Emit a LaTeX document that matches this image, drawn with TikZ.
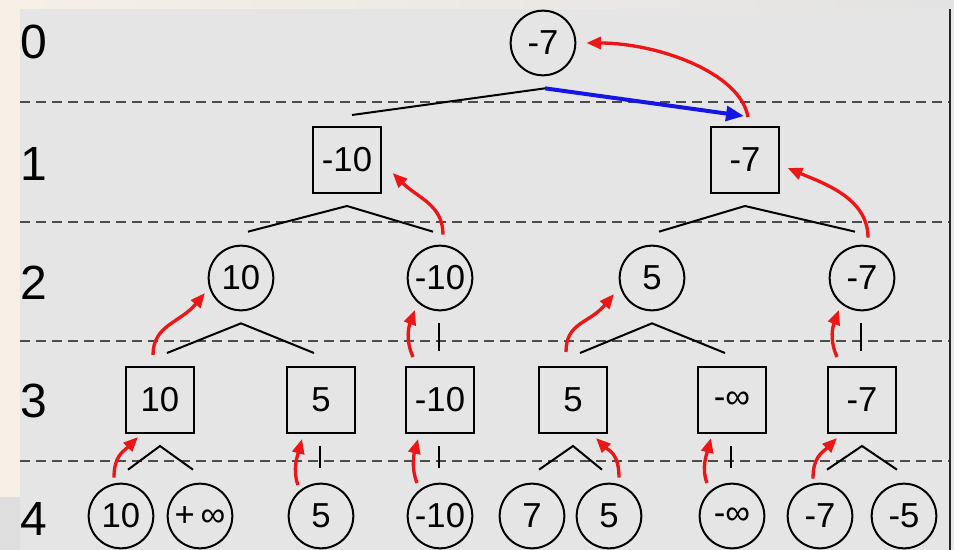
\documentclass[tikz,border=0pt]{standalone}
\usepackage{fontspec}
\setmainfont{Liberation Sans}
\usepackage{tikz}
\usetikzlibrary{arrows.meta,calc}
\definecolor{panel}{RGB}{229,229,229}
\definecolor{cream}{RGB}{245,239,230}
\definecolor{upred}{RGB}{236,22,22}
\definecolor{pickblue}{RGB}{22,22,228}

\begin{document}
\begin{tikzpicture}[x=.75pt,y=-.75pt]
\tikzset{maxn/.style={circle,draw,line width=1.5pt,minimum size=48.5pt,inner sep=0pt,font=\fontsize{26}{30}\selectfont},
minn/.style={rectangle,draw,line width=1.5pt,minimum width=50.5pt,minimum height=49.5pt,inner sep=0pt,font=\fontsize{26}{30}\selectfont},
lvl/.style={font=\fontsize{36}{40}\selectfont,inner sep=0pt},
sep/.style={dash pattern=on 7.5pt off 4.5pt,line width=1pt,draw=black!70},
branch/.style={line width=1.5pt},
back/.style={line width=2.5pt,draw=upred,-{Triangle[length=11pt,width=9pt]}},
pick/.style={line width=3pt,draw=pickblue,-{Triangle[length=13.5pt,width=11pt]}}}
\useasboundingbox (0,0) rectangle (954,550);
\fill[cream] (0,0) rectangle (954,550);
\fill[black!13] (0,497) rectangle (20,550);
\shade[left color=cream,right color=black!11] (20,0) rectangle (954,9);
\fill[panel] (20,9) rectangle (949,550);
\fill[black!9] (950,9) rectangle (954,550);
\draw[line width=1.5pt,black!85] (949.5,9) -- (949.5,550);
\foreach \y in {102,222,341,461}{\draw[sep] (20,\y) -- (949,\y);}
\foreach \k/\y in {0/42,1/164,2/283,3/401,4/519}{\node[lvl] (l\k) at (34,\y){\k};}

\node[maxn] (n0) at (543,43){-7};
\node[minn] (n1a) at (347,160){-10};
\node[minn] (n1b) at (745,160){-7};
\node[maxn] (n2a) at (241,278){10};
\node[maxn] (n2b) at (440,278){-10};
\node[maxn] (n2c) at (652,278){5};
\node[maxn] (n2d) at (862,278){-7};
\node[minn] (n3a) at (160,400){10};
\node[minn] (n3b) at (321,400){5};
\node[minn] (n3c) at (440,400){-10};
\node[minn] (n3d) at (573,400){5};
\node[minn] (n3e) at (732,400){-∞};
\node[minn] (n3f) at (862,400){-7};
\node[maxn] (n4a) at (121,516){10};
\node[maxn] (n4b) at (200,516){+\,∞};
\node[maxn] (n4c) at (321,516){5};
\node[maxn] (n4d) at (440,516){-10};
\node[maxn] (n4e) at (532,516){7};
\node[maxn] (n4f) at (609,516){5};
\node[maxn] (n4g) at (732,516){-∞};
\node[maxn] (n4h) at (820,516){-7};
\node[maxn] (n4i) at (904,516){-5};

\coordinate (top) at ($(n0.south)+(2,12)$);
\draw[branch] ($(n1a.north)+(5,-11)$) -- (top);
\draw[pick] (top) -- ($(n1b.north)+(-1,-10)$);
\foreach \p/\l/\r in {n1a/n2a/n2b,n1b/n2c/n2d,n2a/n3a/n3b,n2c/n3d/n3e,n3a/n4a/n4b,n3d/n4e/n4f,n3f/n4h/n4i}
{\draw[branch] ($(\l.north)+(7,-13)$) -- ($(\p.south)+(0,12)$) -- ($(\r.north)+(-7,-13)$);}
\foreach \p/\c in {n2b/n3c,n2d/n3f,n3b/n4c,n3c/n4d,n3e/n4g}
{\draw[branch] ($(\p.south)+(-1,12)$) -- ($(\c.north)+(-1,-15)$);}

\draw[back] ($(n1b.north)+(3,-9)$) .. controls +(-8,-45) and +(70,0) .. ($(n0.east)+(10,0)$);
\draw[back] ($(n2b.north)+(3,-10)$) .. controls +(0,-30) and +(25,25) .. ($(n1a.east)+(11,13)$);
\draw[back] ($(n2d.north)+(6,-7)$) .. controls +(0,-40) and +(35,15) .. ($(n1b.east)+(8,8)$);
\draw[back] ($(n3a.north)+(-7,-11)$) .. controls +(0,-30) and +(-25,30) .. ($(n2a.center)+(-36,15)$);
\draw[back] ($(n3c.north)+(-27,-9)$) .. controls +(-8,-18) and +(-6,16) .. ($(n2b.center)+(-25,32)$);
\draw[back] ($(n3d.north)+(-7,-14)$) .. controls +(0,-30) and +(-25,30) .. ($(n2c.center)+(-38,16)$);
\draw[back] ($(n3f.north)+(-25,-9)$) .. controls +(-8,-18) and +(-6,16) .. ($(n2d.center)+(-23,32)$);
\draw[back] ($(n4a.north)+(-7,-5)$) .. controls +(0,-22) and +(-15,15) .. ($(n3a.south)+(-22,3)$);
\draw[back] ($(n4c.center)+(-23,-31)$) .. controls +(-6,-15) and +(-4,15) .. ($(n3b.south)+(-19,5)$);
\draw[back] ($(n4d.center)+(-23,-33)$) .. controls +(-6,-15) and +(-4,15) .. ($(n3c.south)+(-22,5)$);
\draw[back] ($(n4f.north)+(10,-5)$) .. controls +(0,-25) and +(12,12) .. ($(n3d.south)+(23,4)$);
\draw[back] ($(n4g.center)+(-25,-33)$) .. controls +(-6,-15) and +(-4,15) .. ($(n3e.south)+(-21,4)$);
\draw[back] ($(n4h.north)+(-7,-4)$) .. controls +(0,-22) and +(-15,15) .. ($(n3f.south)+(-25,4)$);
\end{tikzpicture}
\end{document}
